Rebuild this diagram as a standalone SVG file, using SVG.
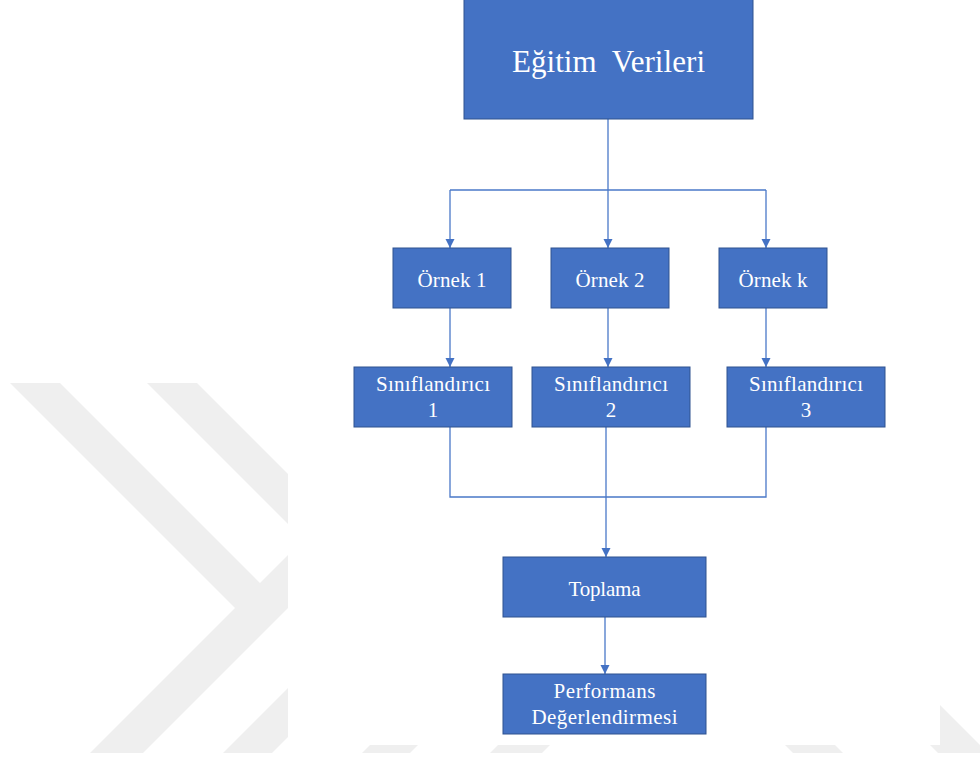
<svg xmlns="http://www.w3.org/2000/svg" width="980" height="758" viewBox="0 0 980 758">
  <style>
    .box { fill: #4472C4; stroke: #2F528F; stroke-width: 1; }
    .lbl { font-family: "Liberation Serif", "Times New Roman", serif; fill: #FFFFFF; text-anchor: middle; font-size: 21px; }
    .big { font-size: 31px; }
    .wire { fill: none; stroke: #4A78C8; stroke-width: 1.3; }
    .mark { fill: #EFEFEF; }
  </style>
  <defs>
    <marker id="arrow" viewBox="0 0 10 10" refX="10" refY="5" markerWidth="9" markerHeight="10" markerUnits="userSpaceOnUse" orient="auto">
      <path d="M0,0 L10,5 L0,10 z" fill="#4472C4"/>
    </marker>
  </defs>

  <rect x="0" y="0" width="980" height="758" fill="#FFFFFF"/>

  <!-- background watermark bands -->
  <g id="watermark">
    <polygon class="mark" points="10,383 60,383 260,583 300,543 300,596 143,753 90,753 235,608"/>
    <polygon class="mark" points="147,383 197,383 300,486 300,536"/>
    <polygon class="mark" points="223,753 272,753 300,725 300,676"/>
    <polygon class="mark" points="370,745 418,745 410,753 362,753"/>
    <polygon class="mark" points="498,745 550,745 542,753 490,753"/>
    <polygon class="mark" points="785,745 835,745 843,753 793,753"/>
    <polygon class="mark" points="880,645 988,753 938,753 880,695"/>
    <rect x="288" y="0" width="652" height="745" fill="#FFFFFF"/>
  </g>

  <!-- connectors -->
  <g id="connectors">
    <path class="wire" d="M608,119 V248" marker-end="url(#arrow)"/>
    <path class="wire" d="M450,190 H766"/>
    <path class="wire" d="M450,190 V248" marker-end="url(#arrow)"/>
    <path class="wire" d="M766,190 V248" marker-end="url(#arrow)"/>
    <path class="wire" d="M450,308 V367" marker-end="url(#arrow)"/>
    <path class="wire" d="M608,308 V367" marker-end="url(#arrow)"/>
    <path class="wire" d="M766,308 V367" marker-end="url(#arrow)"/>
    <path class="wire" d="M450,427 V497 H766 V427"/>
    <path class="wire" d="M606,427 V557" marker-end="url(#arrow)"/>
    <path class="wire" d="M605,617 V674" marker-end="url(#arrow)"/>
  </g>

  <g id="egitim-verileri">
    <rect class="box" x="464" y="-1" width="289" height="120"/>
    <text class="lbl big" x="608.5" y="72" xml:space="preserve" textLength="193">Eğitim  Verileri</text>
  </g>

  <g id="ornek-1">
    <rect class="box" x="393" y="248" width="118" height="60"/>
    <text class="lbl" x="452" y="287" textLength="69">Örnek 1</text>
  </g>
  <g id="ornek-2">
    <rect class="box" x="551" y="248" width="118" height="60"/>
    <text class="lbl" x="610" y="287" textLength="69">Örnek 2</text>
  </g>
  <g id="ornek-k">
    <rect class="box" x="719" y="248" width="108" height="60"/>
    <text class="lbl" x="773" y="287" textLength="69">Örnek k</text>
  </g>

  <g id="siniflandirici-1">
    <rect class="box" x="354" y="367" width="158" height="60"/>
    <text class="lbl" x="433" y="391" textLength="114">Sınıflandırıcı</text>
    <text class="lbl" x="433" y="417">1</text>
  </g>
  <g id="siniflandirici-2">
    <rect class="box" x="532" y="367" width="158" height="60"/>
    <text class="lbl" x="611" y="391" textLength="114">Sınıflandırıcı</text>
    <text class="lbl" x="611" y="417">2</text>
  </g>
  <g id="siniflandirici-3">
    <rect class="box" x="727" y="367" width="158" height="60"/>
    <text class="lbl" x="806" y="391" textLength="114">Sınıflandırıcı</text>
    <text class="lbl" x="806" y="417">3</text>
  </g>

  <g id="toplama">
    <rect class="box" x="503" y="557" width="203" height="60"/>
    <text class="lbl" x="604.5" y="596" textLength="72">Toplama</text>
  </g>

  <g id="performans">
    <rect class="box" x="503" y="674" width="203" height="60"/>
    <text class="lbl" x="604.5" y="698" textLength="102">Performans</text>
    <text class="lbl" x="604.5" y="724" textLength="146">Değerlendirmesi</text>
  </g>
</svg>
